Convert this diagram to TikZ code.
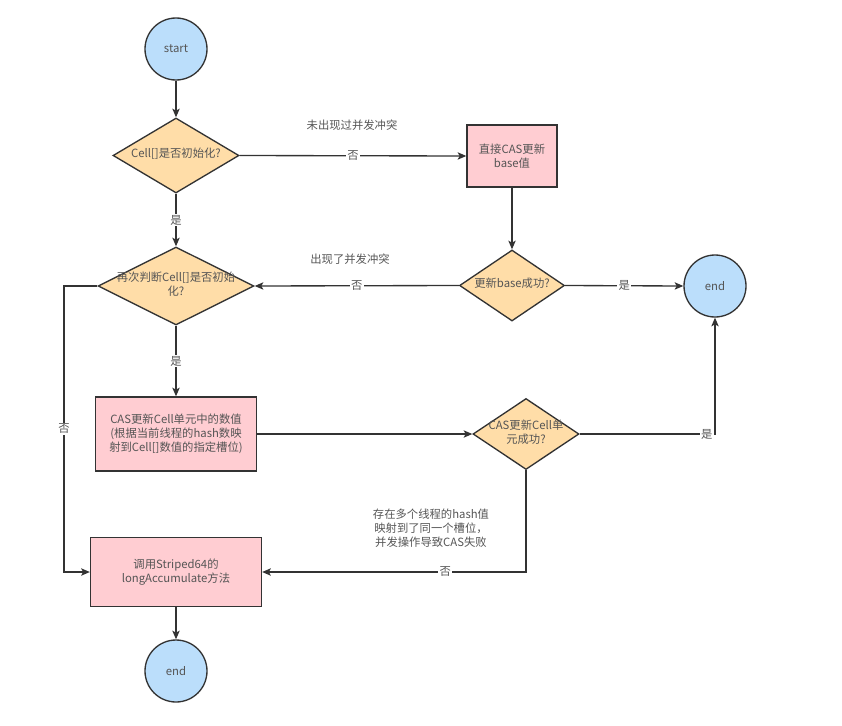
\documentclass[tikz,border=0pt]{standalone}
\usepackage{fontspec}
\setmainfont{Noto Sans CJK SC}
\usetikzlibrary{shapes.geometric,arrows.meta}
\definecolor{lineC}{HTML}{333333}
\definecolor{txtC}{HTML}{555555}
\definecolor{blueF}{HTML}{BBDEFB}
\definecolor{pinkF}{HTML}{FFCDD2}
\definecolor{orangeF}{HTML}{FFDDA8}
% text inside a diamond may run over its border
\newcommand{\dtext}[1]{\smash{\makebox[0pt]{\raisebox{-1.5pt}{\begin{tabular}{@{}c@{}}#1\end{tabular}}}}}

\begin{document}
\begin{tikzpicture}[x=0.75pt,y=0.75pt,yscale=-1,xscale=1,
	every node/.style={text=txtC,font=\fontsize{8.5}{10.5}\selectfont},
	term/.style={circle,draw=lineC,fill=blueF,line width=1pt,minimum size=46.5pt,inner sep=0pt},
	proc/.style={rectangle,draw=lineC,fill=pinkF,line width=1pt,align=center,inner sep=0pt},
	decide/.style={diamond,draw=lineC,fill=orangeF,line width=1pt,inner sep=0pt},
	flow/.style={draw=lineC,line width=1pt,-{Stealth[length=6.5pt,width=5.5pt,inset=1.5pt]}},
	elabel/.style={fill=white,inner sep=1pt}]
	%set diagram size
	\path[use as bounding box] (0,0) rectangle (842,725);

	%Shape: Circle
	\node[term] (start) at (176,49) {start};
	%Shape: Diamond
	\node[decide,minimum width=94.5pt,minimum height=56.25pt] (init) at (176,155.5) {\dtext{Cell[]是否初始化?}};
	%Shape: Rectangle
	\node[proc,minimum width=67.5pt,minimum height=46.5pt] (casBase) at (512,156) {直接CAS更新\\base值};
	%Shape: Diamond
	\node[decide,minimum width=78.75pt,minimum height=53.25pt] (baseOk) at (512,285.5) {\dtext{更新base成功?}};
	%Shape: Circle
	\node[term] (endR) at (715,286) {end};
	%Shape: Diamond
	\node[decide,minimum width=117pt,minimum height=58.5pt] (recheck) at (176,286) {\dtext{再次判断Cell[]是否初始\\化?}};
	%Shape: Rectangle
	\node[proc,minimum width=120.75pt,minimum height=55.5pt] (casCell) at (176,434) {CAS更新Cell单元中的数值\\(根据当前线程的hash数映\\射到Cell[]数值的指定槽位)};
	%Shape: Diamond
	\node[decide,minimum width=79.5pt,minimum height=53.25pt] (cellOk) at (526,434) {\dtext{CAS更新Cell单\\元成功?}};
	%Shape: Rectangle
	\node[proc,minimum width=128.25pt,minimum height=51.75pt] (longAcc) at (176,572) {调用Striped64的\\longAccumulate方法};
	%Shape: Circle
	\node[term] (endB) at (176,671) {end};

	%Straight Lines
	\draw[flow] (start.south) -- (init.north);
	\draw[flow] (init.east) -- node[elabel]{否} (casBase.west);
	\draw[flow] (casBase.south) -- (baseOk.north);
	\draw[flow] (baseOk.east) -- node[elabel]{是} (endR.west);
	\draw[flow] (baseOk.west) -- node[elabel]{否} (recheck.east);
	\draw[flow] (init.south) -- node[elabel]{是} (recheck.north);
	\draw[flow] (recheck.south) -- node[elabel]{是} (casCell.north);
	\coordinate (lft) at (64,286);
	\draw[flow] (recheck.west) -- (lft) -- node[elabel]{否} (lft |- longAcc.west) -- (longAcc.west);
	\draw[flow] (casCell.east) -- (cellOk.west);
	\draw[flow] (cellOk.east) -| node[elabel,pos=0.47]{是} (endR.south);
	\draw[flow] (cellOk.south) |- node[elabel,pos=0.653]{否} (longAcc.east);
	\draw[flow] (longAcc.south) -- (endB.north);

	% Text Node
	\node (noClash) at (352,125) {未出现过并发冲突};
	% Text Node
	\node (clash) at (350,259) {出现了并发冲突};
	% Text Node
	\node[align=center] (hashNote) at (431,528) {存在多个线程的hash值\\映射到了同一个槽位，\\并发操作导致CAS失败};

\end{tikzpicture}
\end{document}
